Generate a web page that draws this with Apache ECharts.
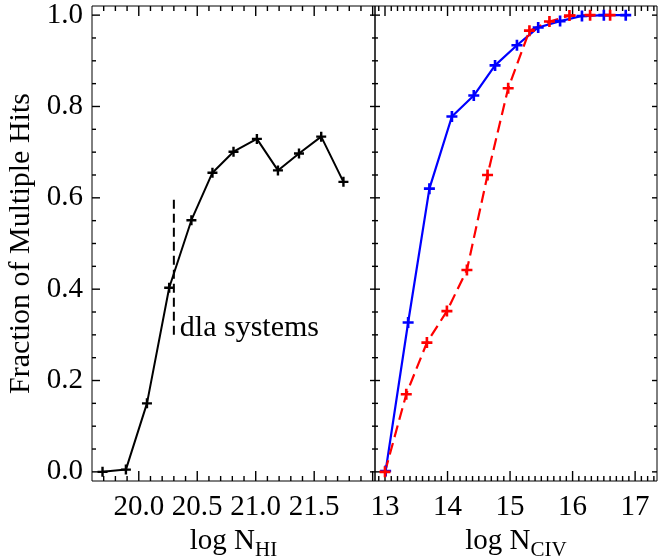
<!DOCTYPE html>
<html><head><meta charset="utf-8">
<script src="https://cdn.jsdelivr.net/npm/echarts@6/dist/echarts.min.js"></script>
<style>html,body{margin:0;padding:0;background:#fff}#c{width:661px;height:560px}</style>
</head><body><div id="c"></div>
<script>
// ---- Data ----
// Left panel: fraction vs log N_HI
const hiX = [19.69, 19.89, 20.07, 20.26, 20.45, 20.63, 20.81, 21.01, 21.19, 21.37, 21.56, 21.75];
const hiY = [0.000, 0.005, 0.150, 0.403, 0.551, 0.655, 0.701, 0.729, 0.660, 0.697, 0.734, 0.635];
// Right panel: fraction vs log N_CIV
const civBlueX = [13.01, 13.37, 13.71, 14.07, 14.42, 14.76, 15.11, 15.45, 15.80, 16.15, 16.50, 16.85];
const civBlueY = [0.002, 0.327, 0.620, 0.778, 0.824, 0.890, 0.934, 0.973, 0.987, 0.998, 1.000, 1.000];
const civRedX = [13.00, 13.34, 13.67, 13.99, 14.31, 14.64, 14.97, 15.31, 15.63, 15.95, 16.28, 16.60];
const civRedY = [0.000, 0.170, 0.283, 0.352, 0.442, 0.650, 0.840, 0.966, 0.986, 0.999, 1.000, 1.000];
// dla annotation
const dlaX = 20.3;
const dlaY = [0.3, 0.6];
const dlaText = 'dla systems';
// Tick labels
const yTickLabels = [0.0, 0.2, 0.4, 0.6, 0.8, 1.0];
const hiTickLabels = [20.0, 20.5, 21.0, 21.5];
const civTickLabels = [13, 14, 15, 16, 17];
const yTitle = 'Fraction of Multiple Hits';

// ---- Tick positions (major / minor) ----
function steps(a, b, s) { const out = []; for (let k = Math.round(a / s); k * s <= b + 1e-9; k++) out.push(+(k * s).toFixed(4)); return out; }
function minorOnly(major, minor) { return minor.filter(v => !major.some(m => Math.abs(m - v) < 1e-6)); }
const yMajor = steps(0, 1, 0.2);
const yMinor = minorOnly(yMajor, steps(0, 1, 0.05));
const hiMajor = steps(20, 22, 0.5);
const hiMinor = minorOnly(hiMajor, steps(19.7, 22.0, 0.1));
const civMajor = steps(13, 17, 1);
const civMinor = minorOnly(civMajor, steps(12.9, 17.3, 0.1));

const FONT = "'Liberation Serif', 'Times New Roman', serif";
const PLUS = 'path://M3.8,0H6.2V3.8H10V6.2H6.2V10H3.8V6.2H0V3.8H3.8Z';
const YMIN = -0.02, YMAX = 1.02;
const HIMIN = 19.6, HIMAX = 22.02;
const CIVMIN = 12.84, CIVMAX = 17.35;

function xAx(grid, min, max, labelVals, fmt, main, sub) {
  return {
    type: 'value', gridIndex: grid, position: 'bottom', min: min, max: max,
    axisLine: { show: false, onZero: false },
    axisTick: { show: false },
    splitLine: { show: false },
    axisLabel: { show: true, customValues: labelVals, formatter: fmt, color: '#000',
      fontFamily: FONT, fontSize: 29, margin: 12 },
    name: '{a|' + main + '}{b|' + sub + '}',
    nameLocation: 'middle', nameGap: 39,
    nameTextStyle: { color: '#000', rich: {
      a: { fontFamily: FONT, fontSize: 29, color: '#000' },
      b: { fontFamily: FONT, fontSize: 21, color: '#000', padding: [18, 0, 0, 0] }
    } }
  };
}
function yAx(grid, withLabels) {
  const a = {
    type: 'value', gridIndex: grid, position: 'left', min: YMIN, max: YMAX,
    axisLine: { show: false, onZero: false },
    axisTick: { show: false },
    splitLine: { show: false },
    axisLabel: { show: false }
  };
  if (withLabels) {
    a.axisLabel = { show: true, customValues: yTickLabels, formatter: v => v.toFixed(1), color: '#000',
      fontFamily: FONT, fontSize: 29, margin: 9 };
    a.name = yTitle;
    a.nameLocation = 'middle';
    a.nameGap = 56;
    a.nameTextStyle = { fontFamily: FONT, fontSize: 30, color: '#000' };
  }
  return a;
}

// Inward tick marks on all four sides, placed through the axes' scales.
const TW = 1.4;
function tickRow(idx, data, size, offset) {
  return { type: 'scatter', xAxisIndex: idx, yAxisIndex: idx, data: data, symbol: 'rect',
    symbolSize: size, symbolOffset: offset, itemStyle: { color: '#000', opacity: 1 }, clip: false };
}
function tickSet(idx, xMaj, xMin, xmin, xmax, yL, yR) {
  return [
    tickRow(idx, xMaj.map(v => [v, YMIN]), [TW, 10], [0, -5]),
    tickRow(idx, xMin.map(v => [v, YMIN]), [TW, 5], [0, -2.5]),
    tickRow(idx, xMaj.map(v => [v, YMAX]), [TW, 10], [0, 5]),
    tickRow(idx, xMin.map(v => [v, YMAX]), [TW, 5], [0, 2.5]),
    tickRow(idx, yMajor.map(v => [xmin, v]), [yL[0], TW], [yL[0] / 2, 0]),
    tickRow(idx, yMinor.map(v => [xmin, v]), [yL[1], TW], [yL[1] / 2, 0]),
    tickRow(idx, yMajor.map(v => [xmax, v]), [yR[0], TW], [-yR[0] / 2, 0]),
    tickRow(idx, yMinor.map(v => [xmax, v]), [yR[1], TW], [-yR[1] / 2, 0])
  ];
}

const zip = (xs, ys) => xs.map((x, i) => [x, ys[i]]);

const option = {
  animation: false,
  backgroundColor: '#fff',
  grid: [
    { left: 92, top: 6, width: 283, height: 475, show: true, borderColor: '#000', borderWidth: 1,
      outerBoundsMode: 'none', containLabel: false },
    { left: 375, top: 6, width: 282, height: 475, show: true, borderColor: '#000', borderWidth: 1,
      outerBoundsMode: 'none', containLabel: false }
  ],
  xAxis: [
    xAx(0, HIMIN, HIMAX, hiTickLabels, v => v.toFixed(1), 'log N', 'HI'),
    xAx(1, CIVMIN, CIVMAX, civTickLabels, v => String(v), 'log N', 'CIV')
  ],
  yAxis: [yAx(0, true), yAx(1, false)],
  series: [
    { type: 'line', xAxisIndex: 0, yAxisIndex: 0, data: zip(hiX, hiY),
      lineStyle: { color: '#000', width: 2 }, itemStyle: { color: '#000', opacity: 1 },
      symbol: PLUS, symbolSize: 10, showSymbol: true },
    { type: 'line', xAxisIndex: 0, yAxisIndex: 0, data: [[dlaX, dlaY[0]], [dlaX, dlaY[1]]],
      lineStyle: { color: '#000', width: 2, type: [9, 5] }, symbol: 'none', silent: true },
    { type: 'scatter', xAxisIndex: 0, yAxisIndex: 0, data: [[dlaX, dlaY[0]]], symbolSize: 0, silent: true,
      itemStyle: { opacity: 1 },
      label: { show: true, position: 'right', distance: 6, offset: [0, -7], formatter: dlaText,
        fontFamily: FONT, fontSize: 30, color: '#000', textBorderWidth: 0, opacity: 1 } },
    { type: 'line', xAxisIndex: 1, yAxisIndex: 1, data: zip(civBlueX, civBlueY),
      lineStyle: { color: '#0000ff', width: 2.2 }, itemStyle: { color: '#0000ff', opacity: 1 },
      symbol: PLUS, symbolSize: 11 },
    { type: 'line', xAxisIndex: 1, yAxisIndex: 1, data: zip(civRedX, civRedY),
      lineStyle: { color: '#ff0000', width: 2.2, type: [12, 6] }, itemStyle: { color: '#ff0000', opacity: 1 },
      symbol: PLUS, symbolSize: 11 }
  ].concat(
    tickSet(0, hiMajor, hiMinor, HIMIN, HIMAX, [8, 4], [5, 3]),
    tickSet(1, civMajor, civMinor, CIVMIN, CIVMAX, [5, 3], [5, 3])
  )
};
const chart = echarts.init(document.getElementById('c'), null, { renderer: 'canvas' });
chart.setOption(option);
</script>
</body></html>
